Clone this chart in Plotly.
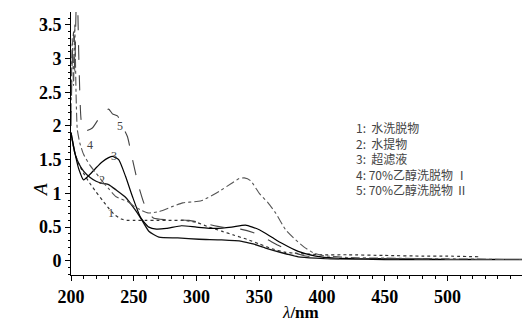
import plotly.graph_objects as go

# ---- data ----
wl1 = [200, 203, 206, 210, 215, 220, 225, 230, 235, 240, 245, 250, 260, 270, 280, 290, 300, 310, 320, 330, 340, 350, 360, 370, 380, 390, 400, 420, 450, 480, 500, 525]
a1 = [1.9, 1.6, 1.45, 1.3, 1.15, 1.02, 0.9, 0.78, 0.68, 0.62, 0.6, 0.6, 0.6, 0.6, 0.6, 0.6, 0.57, 0.5, 0.44, 0.38, 0.32, 0.25, 0.18, 0.13, 0.11, 0.1, 0.09, 0.09, 0.08, 0.07, 0.07, 0.06]

wl2 = [200, 203, 206, 210, 215, 220, 225, 230, 236, 243, 251, 256, 262, 270, 285, 302, 320, 336, 345, 355, 368, 381, 395, 410, 450, 500, 550, 575]
a2 = [1.9, 1.6, 1.45, 1.33, 1.24, 1.18, 1.15, 1.13, 1.05, 0.95, 0.76, 0.62, 0.44, 0.35, 0.34, 0.32, 0.31, 0.29, 0.25, 0.19, 0.12, 0.06, 0.04, 0.03, 0.02, 0.02, 0.02, 0.02]

wl3 = [200, 203.7, 206.4, 210, 215, 220, 225, 230, 233, 238, 243.5, 249, 255.5, 262, 268, 276, 288, 300, 315, 328, 339, 350, 360, 368, 381, 395, 410, 450, 500, 550, 575]
a3 = [1.9, 1.55, 1.35, 1.2, 1.28, 1.38, 1.47, 1.53, 1.55, 1.5, 1.25, 0.95, 0.64, 0.5, 0.47, 0.48, 0.52, 0.5, 0.48, 0.5, 0.53, 0.46, 0.35, 0.26, 0.14, 0.07, 0.04, 0.03, 0.02, 0.02, 0.02]

wl4 = [200, 201, 202, 203, 204, 205, 207, 210, 215, 220, 225, 230, 236, 245, 251, 256, 262, 270, 280, 289, 300, 305, 318, 328, 334, 338, 343, 350, 357, 363, 371, 379, 386, 393, 400, 420, 450, 500, 550, 575]
a4 = [2.2, 3.3, 2.6, 3.5, 2.5, 1.95, 1.75, 1.58, 1.42, 1.3, 1.18, 1.07, 0.95, 0.88, 0.8, 0.75, 0.71, 0.73, 0.8, 0.86, 0.88, 0.9, 1.03, 1.15, 1.22, 1.23, 1.19, 1.0, 0.86, 0.71, 0.46, 0.31, 0.2, 0.12, 0.08, 0.05, 0.04, 0.03, 0.02, 0.02]

wl5 = [200, 201, 202, 203, 204, 205, 206, 207, 208, 210.4, 217, 225, 230, 233, 237, 241, 245, 249, 254, 258, 262, 266, 275, 294, 305, 320, 335, 345, 355, 365, 375, 385, 395, 410, 450, 500, 550, 575]
a5 = [2.0, 3.0, 3.4, 2.8, 3.7, 4.0, 3.2, 2.5, 2.1, 1.92, 1.97, 2.19, 2.25, 2.18, 2.15, 2.0, 1.84, 1.5, 1.1, 0.86, 0.7, 0.63, 0.61, 0.6, 0.56, 0.5, 0.47, 0.42, 0.33, 0.23, 0.14, 0.08, 0.05, 0.03, 0.03, 0.02, 0.02, 0.02]

legend_lines = ["1:  水洗脱物", "2:  水提物", "3:  超滤液", "4: 70%乙醇洗脱物 Ⅰ", "5: 70%乙醇洗脱物 Ⅱ"]
curve_labels = ["1", "2", "3", "4", "5"]
label_x = [231.8, 224.7, 234.0, 215.5, 239.0]
label_y = [0.71, 1.2, 1.55, 1.72, 2.0]

x_ticks = [200, 250, 300, 350, 400, 450, 500]
y_ticks = [0, 0.5, 1, 1.5, 2, 2.5, 3, 3.5]
y_tick_text = ["0", "0.5", "1", "1.5", "2", "2.5", "3", "3.5"]

SERIF = "Liberation Serif, Times New Roman, serif"

fig = go.Figure()
series = [
    (wl1, a1, dict(color="#333333", width=1.2, dash="dot")),
    (wl2, a2, dict(color="#111111", width=1.3, dash="solid")),
    (wl3, a3, dict(color="#000000", width=1.2, dash="solid")),
    (wl4, a4, dict(color="#555555", width=1.1, dash="dashdot")),
    (wl5, a5, dict(color="#444444", width=1.1, dash="longdash")),
]
for xs, ys, ln in series:
    fig.add_trace(go.Scatter(x=xs, y=ys, mode="lines", line=dict(shape="spline", smoothing=0.5, **ln),
                             showlegend=False, hoverinfo="skip"))

for t, lx, ly in zip(curve_labels, label_x, label_y):
    fig.add_annotation(x=lx, y=ly, xref="x", yref="y", text=t, showarrow=False,
                       font=dict(family=SERIF, size=12, color="#444444"))

# legend text block (single multi-line annotation)
fig.add_annotation(x=(354 - 71) / 467, y=(275 - 117) / 263, xref="paper", yref="paper",
                   text="<br>".join(legend_lines), showarrow=False, align="left",
                   xanchor="left", yanchor="top",
                   font=dict(family="Noto Sans CJK SC", size=12, color="#444444"))

fig.add_annotation(x=(40 - 71) / 467, y=(275 - 190) / 263, xref="paper", yref="paper", text="<i>A</i>",
                   showarrow=False, xanchor="center", yanchor="middle",
                   font=dict(family=SERIF, size=19, color="black"), textangle=-90)
fig.add_annotation(x=(300 - 71) / 467, y=(275 - 312) / 263, xref="paper", yref="paper", yanchor="middle",
                   text="<i>λ</i><b>/nm</b>", showarrow=False,
                   font=dict(family=SERIF, size=17, color="black"))

fig.update_layout(
    width=530, height=324,
    margin=dict(l=63, r=0, t=4, b=57),
    paper_bgcolor="white", plot_bgcolor="white",
    xaxis=dict(range=[200, 572], tickvals=x_ticks, ticktext=["<b>%d</b>" % v for v in x_ticks],
               showgrid=False, zeroline=False,
               showline=True, linecolor="black", linewidth=1,
               ticks="outside", ticklen=5, tickcolor="black",
               minor=dict(dtick=10, ticks="outside", ticklen=3, tickcolor="black"),
               tickfont=dict(family=SERIF, size=18, color="black")),
    yaxis=dict(range=[-0.21, 3.69], tickvals=y_ticks, ticktext=["<b>%s</b>" % s for s in y_tick_text],
               showgrid=False, zeroline=False,
               showline=True, linecolor="black", linewidth=1,
               ticks="outside", ticklen=5, tickcolor="black",
               minor=dict(dtick=0.1, ticks="outside", ticklen=2, tickcolor="black"),
               tickfont=dict(family=SERIF, size=18, color="black")),
)

fig.write_html("out.html")
